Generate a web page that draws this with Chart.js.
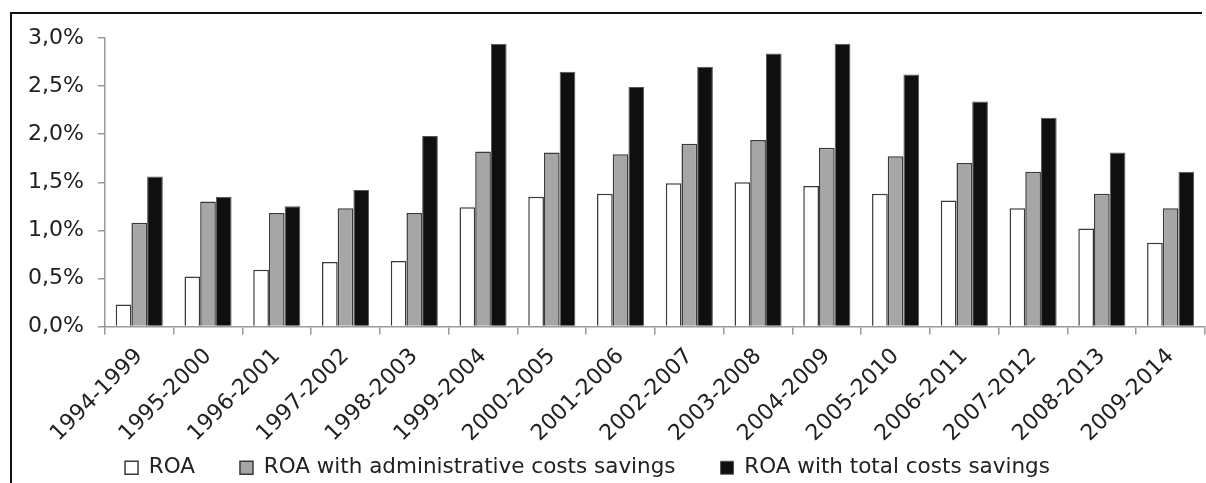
<!DOCTYPE html>
<html>
<head>
<meta charset="utf-8">
<script src="https://cdn.jsdelivr.net/npm/chart.js@4"></script>
<style>
  html, body { margin: 0; padding: 0; background: #fff; overflow: hidden; }
  #wrap { width: 1206px; height: 483px; position: relative; overflow: hidden; }
  /* frame on the top and left edges */
  #frame { position: absolute; left: 10px; top: 12px; width: 1190px; height: 600px;
           border-top: 2px solid #111; border-left: 2px solid #111; pointer-events: none; }
</style>
</head>
<body>
<div id="wrap"><canvas id="roaChart"></canvas><div id="frame"></div></div>
<script>
// Five-year windows
var periods = ['1994-1999', '1995-2000', '1996-2001', '1997-2002', '1998-2003', '1999-2004',
  '2000-2005', '2001-2006', '2002-2007', '2003-2008', '2004-2009', '2005-2010',
  '2006-2011', '2007-2012', '2008-2013', '2009-2014'];

// ROA values in percent
var roa = [0.23, 0.52, 0.59, 0.67, 0.68, 1.24, 1.35, 1.38, 1.49, 1.50, 1.46, 1.38, 1.31, 1.23, 1.02, 0.87];
var roaAdmin = [1.08, 1.30, 1.18, 1.23, 1.18, 1.82, 1.81, 1.79, 1.90, 1.94, 1.86, 1.77, 1.70, 1.61, 1.38, 1.23];
var roaTotal = [1.56, 1.35, 1.25, 1.42, 1.98, 2.94, 2.65, 2.49, 2.70, 2.84, 2.94, 2.62, 2.34, 2.17, 1.81, 1.61];

var FONT = 'DejaVu Sans';

// Legend keeps wide gaps between items but sits just under the rotated labels
var legendShift = {
  id: 'legendShift',
  afterLayout: function (chart) {
    var lg = chart.legend;
    lg.top = 412;
    lg.bottom = lg.top + lg.height;
    lg.left -= 22;
    lg.right -= 22;
  }
};

var ctx = document.getElementById('roaChart').getContext('2d');
var myChart = new Chart(ctx, {
  type: 'bar',
  data: {
    labels: periods,
    datasets: [{
      label: 'ROA',
      data: roa,
      backgroundColor: '#ffffff',
      borderColor: '#3a3a3a',
      borderWidth: 1.5
    }, {
      label: 'ROA with administrative costs savings',
      data: roaAdmin,
      backgroundColor: '#a6a6a6',
      borderColor: '#3a3a3a',
      borderWidth: 1.5
    }, {
      label: 'ROA with total costs savings',
      data: roaTotal,
      backgroundColor: '#0f0f0f',
      borderColor: '#555555',
      borderWidth: 1
    }]
  },
  options: {
    responsive: true,
    maintainAspectRatio: false,
    animation: false,
    layout: { padding: { top: 38, left: 14, right: 1, bottom: -40 } },
    datasets: { bar: { barPercentage: 1, categoryPercentage: 0.685 } },
    scales: {
      x: {
        afterFit: function (scale) { scale.height = 120; },
        grid: { display: true, drawOnChartArea: false, offset: true, tickLength: 8, color: '#9a9a9a', lineWidth: 1.5 },
        border: { color: '#9a9a9a', width: 1.5 },
        ticks: {
          minRotation: 45, maxRotation: 45, autoSkip: false,
          color: '#222', padding: 9,
          font: { family: FONT, size: 22 }
        }
      },
      y: {
        min: 0, max: 3,
        grid: { display: true, drawOnChartArea: false, tickLength: 7, color: '#9a9a9a', lineWidth: 1.5 },
        border: { color: '#9a9a9a', width: 1.5 },
        ticks: {
          stepSize: 0.5, color: '#222', padding: 14,
          font: { family: FONT, size: 22 },
          callback: function (v) { return v.toFixed(1).replace('.', ',') + '%'; }
        }
      }
    },
    plugins: {
      tooltip: { enabled: false },
      legend: {
        position: 'bottom',
        labels: {
          color: '#222', boxWidth: 13, boxHeight: 13, padding: 45,
          font: { family: FONT, size: 21.5 }
        }
      }
    }
  },
  plugins: [legendShift]
});
</script>
</body>
</html>
